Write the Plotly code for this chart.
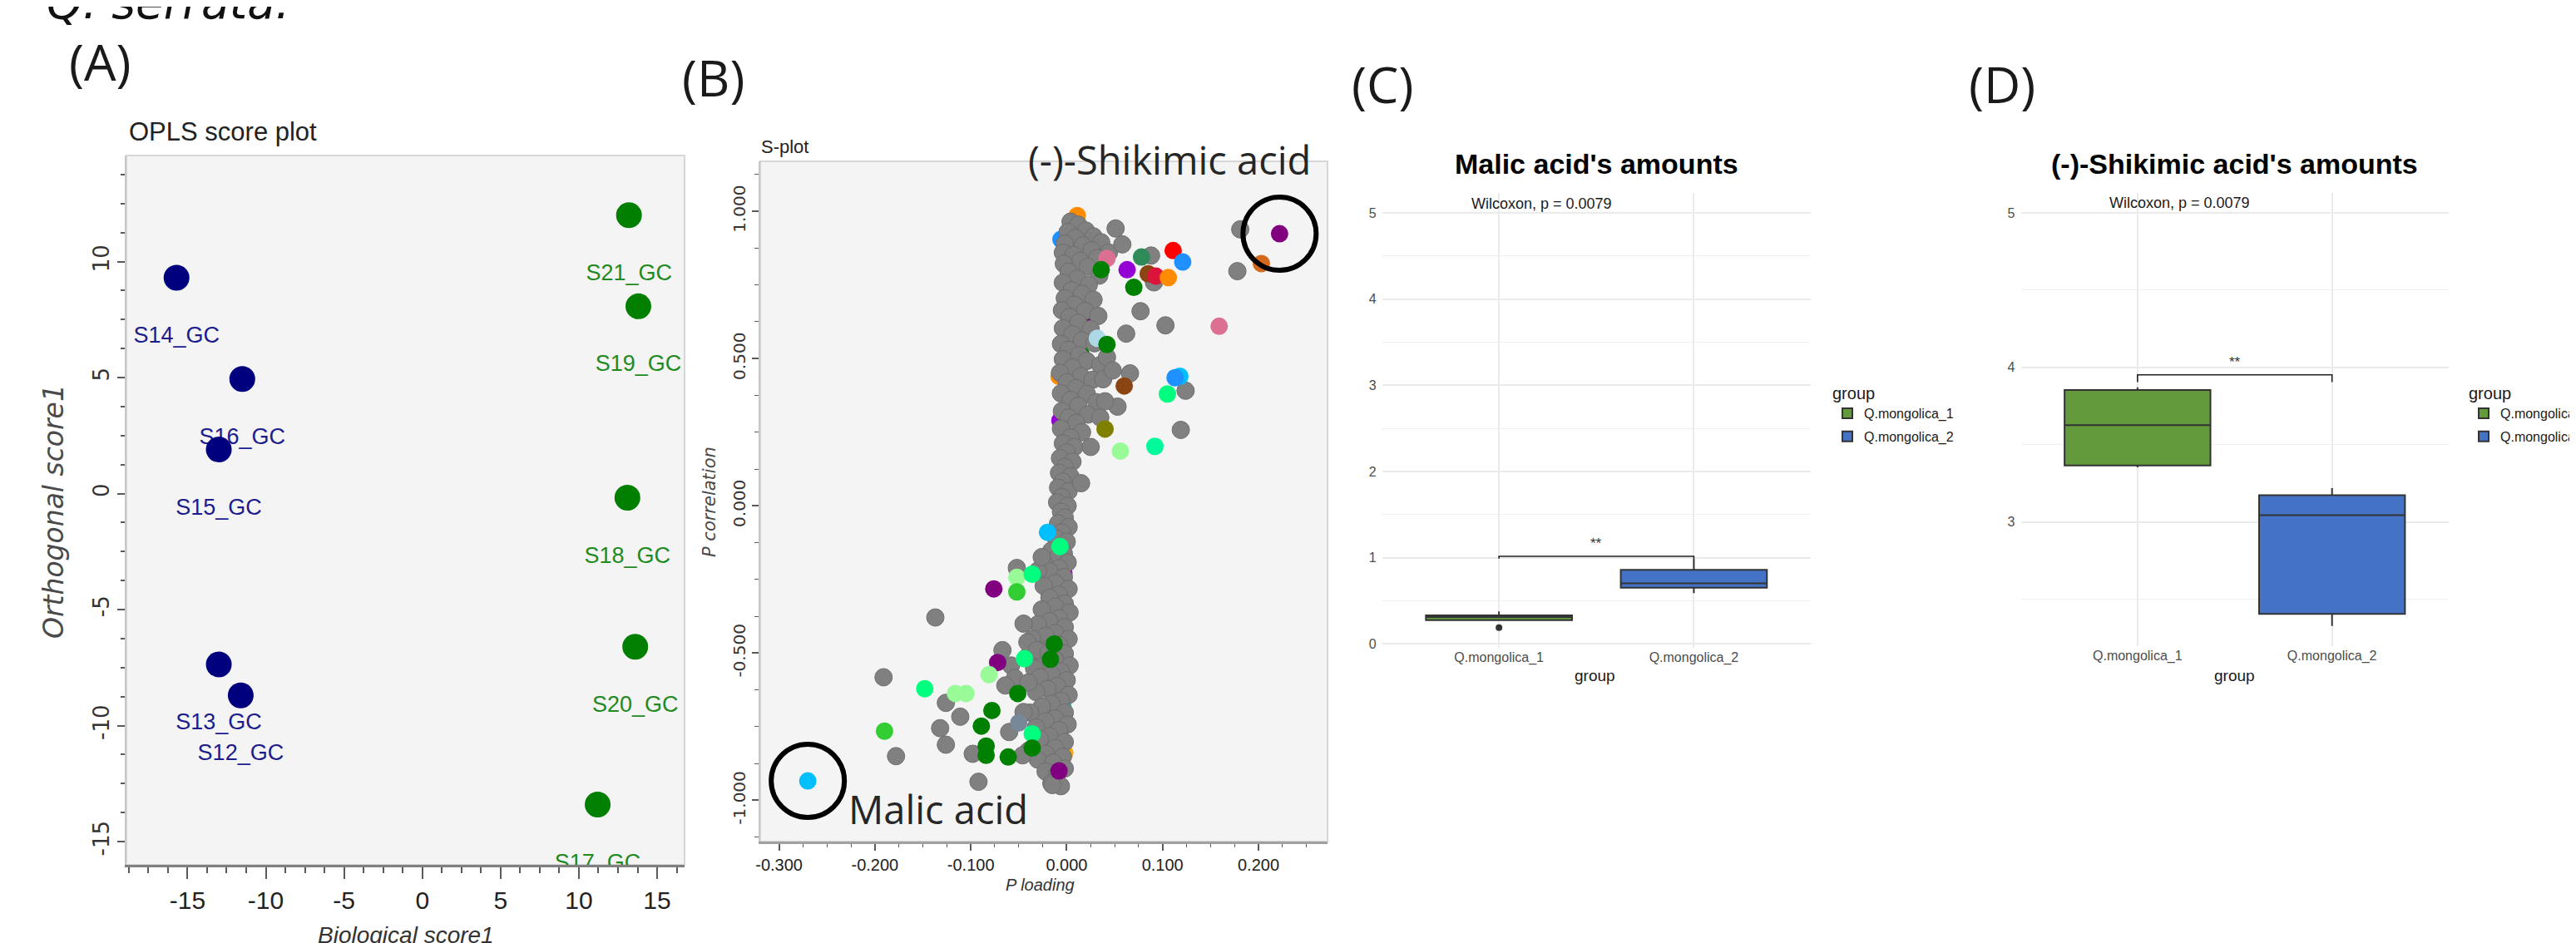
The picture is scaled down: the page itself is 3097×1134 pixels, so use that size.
import plotly.graph_objects as go

W, H = 3097, 1134

# ---------------- Panel A : OPLS score plot ----------------
a_g1_samples = ["S14_GC", "S16_GC", "S15_GC", "S13_GC", "S12_GC"]
a_g1_biological = [-15.7, -11.5, -13.0, -13.0, -11.6]
a_g1_orthogonal = [9.3, 4.94, 1.9, -7.36, -8.7]
a_g2_samples = ["S21_GC", "S19_GC", "S18_GC", "S20_GC", "S17_GC"]
a_g2_biological = [13.2, 13.8, 13.1, 13.6, 11.2]
a_g2_orthogonal = [12.0, 8.07, -0.18, -6.6, -13.4]
a_x_ticks = [-15, -10, -5, 0, 5, 10, 15]
a_x_ticktext = ["-15", "-10", "-5", "0", "5", "10", "15"]
a_y_ticks = [-15, -10, -5, 0, 5, 10]
a_y_ticktext = ["-15", "-10", "-5", "0", "5", "10"]

# ---------------- Panel B : S-plot ----------------
gray_points = [
    (0.004, 0.965), (0.012, 0.955), (0.020, 0.935), (0.001, 0.930), (0.028, 0.915), (0.009, 0.910),
    (0.036, 0.895), (-0.002, 0.890), (0.017, 0.885), (0.026, 0.868), (-0.004, 0.860), (0.007, 0.852),
    (0.044, 0.860), (0.032, 0.842), (0.014, 0.832), (-0.003, 0.822), (0.022, 0.812), (0.002, 0.795),
    (0.034, 0.782), (0.011, 0.772), (-0.004, 0.758), (0.023, 0.750), (0.005, 0.732), (0.016, 0.720),
    (-0.002, 0.705), (0.028, 0.700), (0.008, 0.683), (-0.005, 0.664), (0.019, 0.662), (0.033, 0.645),
    (0.003, 0.642), (0.012, 0.622), (-0.004, 0.603), (0.025, 0.600), (0.006, 0.583), (0.016, 0.562),
    (-0.006, 0.550), (0.029, 0.552), (0.002, 0.530), (0.013, 0.512), (-0.004, 0.498), (0.021, 0.492),
    (0.035, 0.478), (0.006, 0.470), (-0.007, 0.452), (0.015, 0.440), (0.027, 0.428), (0.000, 0.420),
    (0.010, 0.400), (-0.006, 0.382), (0.021, 0.380), (0.004, 0.360), (0.031, 0.352), (0.012, 0.340),
    (-0.005, 0.322), (0.022, 0.310), (0.002, 0.300), (0.010, 0.282), (-0.006, 0.262), (0.016, 0.250),
    (0.004, 0.232), (-0.004, 0.212), (0.008, 0.200), (0.000, 0.182), (-0.007, 0.162), (0.006, 0.150),
    (-0.002, 0.132), (-0.008, 0.112), (0.004, 0.100), (-0.004, 0.082), (-0.009, 0.062), (0.002, 0.050),
    (-0.005, 0.030), (-0.010, 0.012), (0.001, 0.000), (-0.006, -0.020), (-0.002, -0.040), (-0.009, -0.060),
    (0.002, -0.072), (-0.005, -0.090), (-0.011, -0.110), (0.000, -0.122), (-0.007, -0.142), (-0.016, -0.152),
    (-0.003, -0.162), (-0.012, -0.182), (-0.024, -0.192), (0.001, -0.192), (-0.008, -0.212), (-0.018, -0.222),
    (-0.030, -0.220), (-0.003, -0.242), (-0.012, -0.262), (-0.024, -0.272), (0.002, -0.282), (-0.008, -0.302),
    (-0.018, -0.312), (-0.002, -0.332), (-0.012, -0.342), (-0.026, -0.352), (0.003, -0.362), (-0.008, -0.382),
    (-0.018, -0.392), (-0.030, -0.402), (-0.002, -0.412), (-0.012, -0.432), (-0.022, -0.442), (0.002, -0.452),
    (-0.036, -0.452), (-0.008, -0.472), (-0.018, -0.482), (-0.028, -0.492), (-0.002, -0.502), (-0.041, -0.512),
    (-0.012, -0.522), (-0.024, -0.532), (0.003, -0.542), (-0.034, -0.552), (-0.006, -0.562), (-0.016, -0.572),
    (-0.028, -0.582), (0.000, -0.592), (-0.010, -0.612), (-0.020, -0.622), (-0.032, -0.632), (0.002, -0.642),
    (-0.006, -0.662), (-0.016, -0.672), (-0.026, -0.682), (-0.002, -0.702), (-0.038, -0.702), (-0.012, -0.722),
    (-0.022, -0.732), (0.001, -0.742), (-0.032, -0.752), (-0.008, -0.762), (-0.018, -0.782), (-0.028, -0.792),
    (-0.002, -0.802), (-0.012, -0.822), (-0.040, -0.832), (-0.022, -0.842), (-0.004, -0.852), (-0.030, -0.862),
    (-0.014, -0.872), (-0.002, -0.892), (-0.022, -0.902), (-0.010, -0.912), (-0.016, -0.942), (-0.006, -0.952),
    # scattered grey variables
    (0.051, 0.942), (0.058, 0.888), (0.088, 0.850), (0.091, 0.759), (0.181, 0.939), (0.178, 0.797),
    (0.077, 0.661), (0.103, 0.613), (0.062, 0.585), (0.066, 0.450), (0.124, 0.391), (0.053, 0.337),
    (0.119, 0.258), (0.015, 0.077), (0.042, 0.505), (0.038, 0.430), (0.048, 0.460), (0.040, 0.355),
    (0.035, 0.300), (0.025, 0.200),
    (-0.052, -0.211), (-0.026, -0.174), (-0.045, -0.400), (-0.041, -0.463), (-0.058, -0.542), (-0.054, -0.585),
    (-0.064, -0.610), (-0.031, -0.490), (-0.137, -0.379), (-0.067, -0.490), (-0.191, -0.582), (-0.126, -0.669),
    (-0.111, -0.716), (-0.132, -0.755), (-0.060, -0.768), (-0.126, -0.811), (-0.178, -0.850), (-0.098, -0.842),
    (-0.046, -0.847), (-0.092, -0.937), (-0.015, -0.948), (-0.019, -0.500), (-0.045, -0.700), (-0.040, -0.600),
]
hidden_points = [
    (0.011, 0.986), (-0.006, 0.905), (0.004, 0.700), (0.020, 0.620), (0.015, 0.515), (0.012, 0.450),
    (-0.008, 0.440), (0.010, 0.360), (-0.007, 0.290), (-0.008, -0.060), (-0.003, -0.230), (-0.004, -0.680),
    (-0.006, -0.400), (-0.002, -0.840),
]
hidden_colors = ["#ff8c00", "#1e90ff", "#9400d3", "#800080", "#008000", "#008000",
                 "#ff8c00", "#008000", "#9400d3", "#008000", "#9400d3", "#20b2aa",
                 "#008000", "#ffa500"]
colored_points = [
    (0.042, 0.840), (0.036, 0.802), (0.063, 0.802), (0.078, 0.845), (0.085, 0.788), (0.111, 0.867),
    (0.093, 0.780), (0.121, 0.828), (0.106, 0.775), (0.070, 0.742), (0.203, 0.823), (0.222, 0.924),
    (0.159, 0.610), (0.032, 0.569), (0.042, 0.548), (0.060, 0.407), (0.118, 0.440), (0.113, 0.435),
    (0.105, 0.380), (0.040, 0.261), (0.056, 0.186), (0.092, 0.202),
    (-0.020, -0.090), (-0.007, -0.138), (-0.052, -0.243), (-0.036, -0.232), (-0.076, -0.282), (-0.052, -0.292),
    (-0.072, -0.532), (-0.044, -0.519), (-0.081, -0.573), (-0.148, -0.621), (-0.116, -0.637), (-0.105, -0.637),
    (-0.078, -0.695), (-0.051, -0.637), (-0.089, -0.748), (-0.190, -0.765), (-0.050, -0.737), (-0.036, -0.774),
    (-0.084, -0.816), (-0.084, -0.847), (-0.061, -0.853), (-0.036, -0.822), (-0.008, -0.900), (-0.270, -0.934),
    (-0.013, -0.469), (-0.017, -0.521),
]
colored_colors = [
    "#db7093", "#008000", "#9400d3", "#2e8b57", "#8b4513", "#ff0000",
    "#dc143c", "#1e90ff", "#ff8c00", "#008000", "#d2691e", "#800080",
    "#db7093", "#add8e6", "#008000", "#8b4513", "#00bfff", "#1e90ff",
    "#00ff7f", "#808000", "#98fb98", "#00fa9a",
    "#00bfff", "#00ff7f", "#98fb98", "#00ff7f", "#800080", "#32cd32",
    "#800080", "#00ff7f", "#98fb98", "#00ff7f", "#98fb98", "#98fb98",
    "#008000", "#008000", "#008000", "#32cd32", "#778899", "#00ff7f",
    "#008000", "#008000", "#008000", "#008000", "#800080", "#00bfff",
    "#008000", "#008000",
]
shikimic_point = (0.222, 0.924)
malic_point = (-0.270, -0.934)
b_x_ticks = [-0.3, -0.2, -0.1, 0.0, 0.1, 0.2]
b_x_ticktext = ["-0.300", "-0.200", "-0.100", "0.000", "0.100", "0.200"]
b_y_ticks = [-1.0, -0.5, 0.0, 0.5, 1.0]
b_y_ticktext = ["-1.000", "-0.500", "0.000", "0.500", "1.000"]

# ---------------- Panels C, D : box plots ----------------
groups = ["Q.mongolica_1", "Q.mongolica_2"]
malic_g1 = [0.189, 0.305, 0.311, 0.316, 0.378]
malic_g2 = [0.590, 0.673, 0.702, 0.817, 0.990]
shik_g1 = [3.353, 3.370, 3.626, 3.848, 3.871]
shik_g2 = [2.327, 2.431, 3.044, 3.157, 3.219]
malic_bracket = [0.990, 1.016]      # tip bottom, bracket top
shik_bracket = [3.905, 3.952]
p_text = "Wilcoxon, p = 0.0079"
sig_text = "**"

# ---------------- styling ----------------
NARROW = "Liberation Sans, Arial, sans-serif"
WIDE = "DejaVu Sans, Verdana, sans-serif"
ARIAL = "Liberation Sans, Arial, sans-serif"
OPEN = "Open Sans, Noto Sans, sans-serif"
NAVY = "#00007f"
DGREEN = "#007f00"
BOX_GREEN = "#629a3c"
BOX_BLUE = "#4472c4"


def fx(x):
    return x / W


def fy(y):
    return 1 - y / H


fig = go.Figure()

# Panel A traces
fig.add_trace(go.Scatter(x=a_g1_biological, y=a_g1_orthogonal, text=a_g1_samples, mode="markers+text",
                         textposition="bottom center", marker=dict(size=91, opacity=0),
                         textfont=dict(family=NARROW, size=27, color="#1c1c8c"),
                         xaxis="x", yaxis="y", hoverinfo="skip", showlegend=False, cliponaxis=True))
fig.add_trace(go.Scatter(x=a_g2_biological, y=a_g2_orthogonal, text=a_g2_samples, mode="markers+text",
                         textposition="bottom center", marker=dict(size=91, opacity=0),
                         textfont=dict(family=NARROW, size=27, color="#1f8a1f"),
                         xaxis="x", yaxis="y", hoverinfo="skip", showlegend=False, cliponaxis=True))
fig.add_trace(go.Scatter(x=a_g1_biological, y=a_g1_orthogonal, mode="markers",
                         marker=dict(size=31, color=NAVY), xaxis="x", yaxis="y", showlegend=False))
fig.add_trace(go.Scatter(x=a_g2_biological, y=a_g2_orthogonal, mode="markers",
                         marker=dict(size=31, color=DGREEN), xaxis="x", yaxis="y", showlegend=False))

# Panel B traces
fig.add_trace(go.Scatter(x=[p[0] for p in hidden_points], y=[p[1] for p in hidden_points], mode="markers",
                         marker=dict(size=21, color=hidden_colors, line=dict(width=0)),
                         xaxis="x2", yaxis="y2", showlegend=False))
fig.add_trace(go.Scatter(x=[p[0] for p in gray_points], y=[p[1] for p in gray_points], mode="markers",
                         marker=dict(size=21, color="#808080", line=dict(width=1, color="#6e6e6e")),
                         xaxis="x2", yaxis="y2", showlegend=False))
fig.add_trace(go.Scatter(x=[p[0] for p in colored_points], y=[p[1] for p in colored_points], mode="markers",
                         marker=dict(size=21, color=colored_colors, line=dict(width=0)),
                         xaxis="x2", yaxis="y2", showlegend=False))
fig.add_trace(go.Scatter(x=[shikimic_point[0], malic_point[0]], y=[shikimic_point[1], malic_point[1]],
                         mode="markers", marker=dict(symbol="circle-open", size=88, color="black",
                                                     line=dict(width=6, color="black")),
                         xaxis="x2", yaxis="y2", showlegend=False, cliponaxis=False, hoverinfo="skip"))

# Panel C & D box traces
box_common = dict(boxpoints="outliers", width=0.75, whiskerwidth=0,
                  line=dict(color="#333333", width=2), marker=dict(color="#333333", size=8))
fig.add_trace(go.Box(x=[groups[0]] * len(malic_g1), y=malic_g1, name=groups[0], fillcolor=BOX_GREEN,
                     xaxis="x3", yaxis="y3", legend="legend", legendgroup="c1", **box_common))
fig.add_trace(go.Box(x=[groups[1]] * len(malic_g2), y=malic_g2, name=groups[1], fillcolor=BOX_BLUE,
                     xaxis="x3", yaxis="y3", legend="legend", legendgroup="c2", **box_common))
fig.add_trace(go.Box(x=[groups[0]] * len(shik_g1), y=shik_g1, name=groups[0], fillcolor=BOX_GREEN,
                     xaxis="x4", yaxis="y4", legend="legend2", legendgroup="d1", **box_common))
fig.add_trace(go.Box(x=[groups[1]] * len(shik_g2), y=shik_g2, name=groups[1], fillcolor=BOX_BLUE,
                     xaxis="x4", yaxis="y4", legend="legend2", legendgroup="d2", **box_common))

# brackets
for br, xa, ya in [(malic_bracket, "x3", "y3"), (shik_bracket, "x4", "y4")]:
    fig.add_trace(go.Scatter(x=[groups[0], groups[0], groups[1], groups[1]],
                             y=[br[0], br[1], br[1], br[0]], mode="lines",
                             line=dict(color="#222222", width=1.6), xaxis=xa, yaxis=ya,
                             showlegend=False, hoverinfo="skip"))

# ---------------- layout ----------------
tick_grey = "#5a5a5a"
layout = dict(
    width=W, height=H, margin=dict(l=0, r=0, t=0, b=0, autoexpand=False),
    paper_bgcolor="white", plot_bgcolor="rgba(0,0,0,0)",
    boxmode="overlay", showlegend=True,
    xaxis=dict(domain=[fx(144), fx(815)], anchor="y", range=[-18.9, 16.75], automargin=False,
               tickmode="array", tickvals=a_x_ticks, ticktext=a_x_ticktext,
               showline=True, linecolor="#7f7f7f", linewidth=3, ticks="outside", ticklen=14,
               tickwidth=2, tickcolor=tick_grey, showgrid=False, zeroline=False,
               minor=dict(tickmode="linear", tick0=0, dtick=1.25, ticks="outside", ticklen=7,
                          tickwidth=1.5, tickcolor=tick_grey),
               tickfont=dict(family=NARROW, size=30, color="#222222")),
    yaxis=dict(domain=[fy(1032), fy(179)], anchor="x", range=[-16.0, 14.57], automargin=False,
               tickmode="array", tickvals=a_y_ticks, ticktext=a_y_ticktext, tickangle=-90,
               showline=True, linecolor="#c8c8c8", linewidth=2, ticks="outside", ticklen=9,
               tickwidth=2, tickcolor=tick_grey, showgrid=False, zeroline=False,
               minor=dict(tickmode="linear", tick0=0, dtick=1.25, ticks="outside", ticklen=5,
                          tickwidth=1.5, tickcolor=tick_grey),
               tickfont=dict(family=WIDE, size=26, color="#333333")),
    xaxis2=dict(domain=[fx(906), fx(1588)], anchor="y2", range=[-0.3196, 0.272], automargin=False,
                tickmode="array", tickvals=b_x_ticks, ticktext=b_x_ticktext,
                showline=True, linecolor="#a0a0a0", linewidth=3, ticks="outside", ticklen=8,
                tickwidth=1.5, tickcolor=tick_grey, showgrid=False, zeroline=False,
                minor=dict(tickmode="linear", tick0=0, dtick=0.025, ticks="outside", ticklen=4,
                           tickwidth=1, tickcolor=tick_grey),
                tickfont=dict(family=NARROW, size=20, color="#222222")),
    yaxis2=dict(domain=[fy(1004), fy(186)], anchor="x2", range=[-1.14, 1.17], automargin=False,
                tickmode="array", tickvals=b_y_ticks, ticktext=b_y_ticktext, tickangle=-90,
                showline=True, linecolor="#c8c8c8", linewidth=2, ticks="outside", ticklen=8,
                tickwidth=1.5, tickcolor=tick_grey, showgrid=False, zeroline=False,
                minor=dict(tickmode="linear", tick0=0, dtick=0.125, ticks="outside", ticklen=5,
                           tickwidth=1, tickcolor=tick_grey),
                tickfont=dict(family=WIDE, size=20, color="#333333")),
)
for i, (xd, yd, yr) in enumerate([((1653.6, 2169), (771, 223.6), [-0.045, 5.235]),
                                  ((2421.5, 2936), (769, 223.6), [2.196, 5.131])], start=3):
    layout[f"xaxis{i}"] = dict(domain=[fx(xd[0]), fx(xd[1])], anchor=f"y{i}", type="category",
                               categoryorder="array", categoryarray=groups, range=[-0.6, 1.6],
                               automargin=False,
                               showgrid=True, gridcolor="#ebebeb", gridwidth=1.5, zeroline=False,
                               showline=False, ticks="", ticklabelstandoff=0,
                               tickfont=dict(family=ARIAL, size=16, color="#4d4d4d"))
    layout[f"yaxis{i}"] = dict(domain=[fy(yd[0]), fy(yd[1])], anchor=f"x{i}", range=yr,
                               automargin=False,
                               tickmode="linear", tick0=0, dtick=1,
                               showgrid=True, gridcolor="#ebebeb", gridwidth=1.5, zeroline=False,
                               showline=False, ticks="", ticklabelstandoff=6,
                               minor=dict(tickmode="linear", tick0=0, dtick=0.5, showgrid=True,
                                          gridcolor="#f0f0f0", gridwidth=1),
                               tickfont=dict(family=ARIAL, size=16, color="#4d4d4d"))

legend_common = dict(xanchor="left", yanchor="top", bgcolor="rgba(0,0,0,0)", borderwidth=0,
                     font=dict(family=ARIAL, size=16, color="#1a1a1a"),
                     title=dict(text="group", font=dict(family=ARIAL, size=20, color="#1a1a1a")),
                     tracegroupgap=4, itemclick=False)
layout["legend"] = dict(x=fx(2193), y=fy(446), **legend_common)
layout["legend2"] = dict(x=fx(2958), y=fy(446), **legend_common)

layout["shapes"] = [
    dict(type="rect", xref="x domain", yref="y domain", x0=0, x1=1, y0=0, y1=1,
         fillcolor="#f4f4f4", line=dict(color="#d6d6d6", width=2), layer="below"),
    dict(type="rect", xref="x2 domain", yref="y2 domain", x0=0, x1=1, y0=0, y1=1,
         fillcolor="#f4f4f4", line=dict(color="#d6d6d6", width=2), layer="below"),
]


def ann(text, x, y, size, family, color="#222222", xanchor="center", yanchor="middle",
        bold=False, italic=False, angle=0, xref="paper", yref="paper", yshift=0):
    t = f"<b>{text}</b>" if bold else text
    return dict(text=t, x=x, y=y, xref=xref, yref=yref, xanchor=xanchor, yanchor=yanchor,
                showarrow=False, textangle=angle, yshift=yshift,
                font=dict(family=family, size=size, color=color,
                          style="italic" if italic else "normal"))


annotations = [
    ann("Q. serrata.", fx(46), fy(29), 55, WIDE, "#111111", xanchor="left", yanchor="bottom", italic=True),
    ann("(A)", fx(112), fy(66), 61, OPEN, "#1a1a1a"),
    ann("(B)", fx(849), fy(84), 61, OPEN, "#1a1a1a"),
    ann("(C)", fx(1654), fy(92), 61, OPEN, "#1a1a1a"),
    ann("(D)", fx(2399), fy(92), 61, OPEN, "#1a1a1a"),
    ann("OPLS score plot", fx(145), fy(150), 31, NARROW, "#222222", xanchor="left"),
    ann("S-plot", fx(905), fy(168), 22, NARROW, "#222222", xanchor="left"),
    ann("Biological score1", fx(480), fy(1116), 28, NARROW, "#333333", italic=True),
    ann("Orthogonal score1", fx(56), fy(607), 33, WIDE, "#4a4a4a", italic=True, angle=-90),
    ann("P loading", fx(1242), fy(1056), 20, NARROW, "#333333", italic=True),
    ann("P correlation", fx(845), fy(596), 21, WIDE, "#4a4a4a", italic=True, angle=-90),
    ann("(-)-Shikimic acid", fx(1570), fy(184), 47, OPEN, "#262626", xanchor="right"),
    ann("Malic acid", fx(1010), fy(965), 47, OPEN, "#262626", xanchor="left"),
    ann("Malic acid's amounts", fx(1911), fy(189), 34, ARIAL, "#000000", bold=True),
    ann("(-)-Shikimic acid's amounts", fx(2678), fy(189), 34, ARIAL, "#000000", bold=True),
    ann("group", fx(1910), fy(804), 19, ARIAL, "#1a1a1a"),
    ann("group", fx(2678), fy(804), 19, ARIAL, "#1a1a1a"),
    ann(p_text, 0.217, 5.05, 18, ARIAL, "#1a1a1a", xref="x3", yref="y3", yshift=6),
    ann(p_text, 0.216, 5.03, 18, ARIAL, "#1a1a1a", xref="x4", yref="y4", yshift=6),
    ann(sig_text, 0.5, malic_bracket[1], 17, ARIAL, "#333333", yanchor="bottom", xref="x3", yref="y3",
        yshift=4),
    ann(sig_text, 0.5, shik_bracket[1], 17, ARIAL, "#333333", yanchor="bottom", xref="x4", yref="y4",
        yshift=4),
]
layout["annotations"] = annotations

fig.update_layout(**layout)
fig.write_html("out.html")
